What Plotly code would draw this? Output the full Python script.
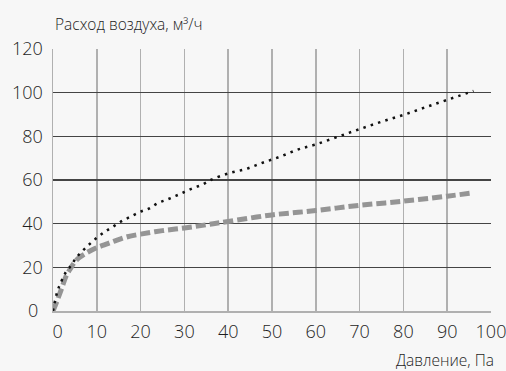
import plotly.graph_objects as go

# Dotted black series
dot_x = [0, 1, 2, 3, 4, 5, 6, 8, 10, 12, 14, 16, 18, 20, 22, 24, 26, 28, 30, 32, 34, 36,
         40, 44, 48, 52, 56, 60, 65, 70, 75, 80, 85, 90, 96]
dot_y = [0, 9, 14, 18, 20.5, 23.5, 26, 30, 33.5, 36.5, 39, 41.5, 43.5, 45.5, 47, 49.5, 51,
         52.7, 54.5, 56.3, 57.8, 60, 63, 65, 68, 70.8, 74, 76.3, 79.8, 83.3, 86.7, 89.8,
         93.3, 96.7, 100.8]

# Dashed gray series
dash_x = [0, 1, 2, 3, 4, 5, 6, 8, 10, 12, 14, 17, 20, 25, 30, 35, 40, 50, 60, 70, 80, 90, 95.5]
dash_y = [0, 5, 10.5, 16, 19.5, 22.5, 24.5, 27, 29, 30.5, 32, 34, 35.2, 36.8, 38, 39.5,
          41, 44, 46, 48.4, 50.3, 52.6, 54]

x_ticks = [0, 10, 20, 30, 40, 50, 60, 70, 80, 90, 100]
x_labels = ["\u00a0\u00a00", "10", "20", "30", "40", "50", "60", "70", "80", "90", "100"]
y_ticks = [0, 20, 40, 60, 80, 100, 120]
y_labels = ["0\u00a0", "20", "40", "60", "80", "100", "120"]

y_title = "Расход воздуха, м³/ч"
x_title = "Давление, Па"

BG = "#f7f7f7"
FONT = "Open Sans"
TICKFONT = dict(size=18, family=FONT, color="#1e1e1e", weight=300)
TITLEFONT = dict(size=15.5, family=FONT, color="#1e1e1e", weight=300)

fig = go.Figure()
fig.add_trace(go.Scatter(
    x=dash_x, y=dash_y, mode="lines", line_shape="spline",
    line=dict(color="#959595", width=5, dash="10px,4px"),
    hoverinfo="skip", showlegend=False))
fig.add_trace(go.Scatter(
    x=dot_x, y=dot_y, mode="lines", line_shape="spline",
    line=dict(color="#111111", width=2.5, dash="2.5px,5.2px"),
    hoverinfo="skip", showlegend=False))

fig.update_layout(
    width=506, height=371,
    margin=dict(l=53, r=15, t=49, b=60),
    paper_bgcolor=BG, plot_bgcolor=BG,
    font=dict(family=FONT, color="#1e1e1e"),
    xaxis=dict(range=[0, 100], tickvals=x_ticks, ticktext=x_labels,
               showgrid=True, gridcolor="#b0b0b0", gridwidth=1.5,
               zeroline=False, showline=True, linecolor="#b0b0b0", linewidth=1.5,
               ticks="", automargin=False, ticklabelstandoff=4,
               ticklabeloverflow="allow",
               tickfont=TICKFONT, fixedrange=True),
    yaxis=dict(range=[0, 120], tickvals=y_ticks, ticktext=y_labels,
               showgrid=True, gridcolor="#444444", gridwidth=1.5,
               zeroline=False, showline=True, linecolor="#b0b0b0", linewidth=1.5,
               ticks="", ticklabelstandoff=5, automargin=False,
               ticklabeloverflow="allow",
               tickfont=TICKFONT, fixedrange=True),
    annotations=[
        dict(text=y_title, xref="paper", yref="paper", x=0, y=1, xanchor="left",
             yanchor="bottom", yshift=12, showarrow=False, font=TITLEFONT),
        dict(text=x_title, xref="paper", yref="paper", x=1, y=0, xanchor="right",
             yanchor="top", xshift=5, yshift=-36, showarrow=False, font=TITLEFONT),
    ],
)

fig.write_html(
    "out.html",
    config={"displayModeBar": False, "staticPlot": True},
    post_script="document.body.style.margin='0';document.body.style.overflow='hidden';"
                "document.documentElement.style.overflow='hidden';",
)
